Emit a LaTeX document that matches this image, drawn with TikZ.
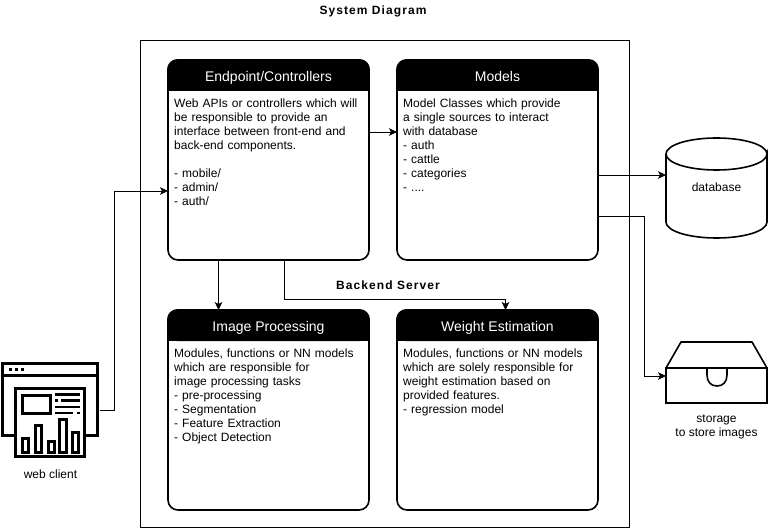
\documentclass[tikz,border=0pt]{standalone}
\usepackage{fontspec}
\setmainfont{Liberation Sans}
\usetikzlibrary{arrows.meta}
\tikzset{
  x=1pt,y=-1pt,
  panel/.style={draw=black,line width=1.6pt,fill=white,rounded corners=10pt,minimum width=201pt,minimum height=200pt,inner sep=0pt,outer sep=0pt},
  paneltitle/.style={text=white,font=\fontsize{14}{16}\selectfont,inner sep=0pt},
  panelbody/.style={anchor=north west,align=left,inner sep=0pt,text width=190pt,font=\fontsize{12}{14}\selectfont},
  label/.style={align=center,inner sep=0pt,font=\fontsize{12}{14}\selectfont},
  heading/.style={inner sep=0pt,font=\fontsize{12}{14}\selectfont\bfseries\addfontfeatures{LetterSpace=9}},
  link/.style={draw=black,line width=0.8pt,-{Stealth[length=8pt,width=7.5pt,inset=2pt]}},
  shapeline/.style={draw=black,line width=1.6pt,fill=white},
  icon/.style={draw=black,line width=3pt,fill=white,line cap=butt,line join=miter},
  iconbar/.style={draw=black,line width=2.6pt},
  anchorbox/.style={inner sep=0pt,outer sep=0pt},
}
\newcommand{\panelbox}[5]{% name, left, top, title, body lines
  \node[panel] (#1) at (#2+100.5,#3+100) {};
  \fill[black,rounded corners=10pt] (#2-0.8,#3+31) -- (#2-0.8,#3-0.8) -- (#2+201.8,#3-0.8) -- (#2+201.8,#3+31) -- cycle;
  \fill[black] (#2-0.8,#3+20) rectangle (#2+201.8,#3+31);
  \node[paneltitle] (#1title) at (#2+100.5,#3+18) {#4\strut};
  \node[panelbody] (#1body) at (#2+6,#3+39) {#5};
}
\begin{document}
\begin{tikzpicture}
\useasboundingbox (0,0) rectangle (768,529);
\fill[white] (0,0) rectangle (768,529);

\node[heading] (sysTitle) at (373,11) {System Diagram};
\node[draw=black,line width=0.8pt,minimum width=489pt,minimum height=487pt,inner sep=0pt,outer sep=0pt] (server) at (385.2,284.2) {};
\node[heading] (serverLabel) at (388,285) {Backend Server};

\panelbox{ep}{168}{60}{Endpoint/Controllers}{Web APIs or controllers which will\\be responsible to provide an\\interface between front-end and\\back-end components.\\[14pt]- mobile/\\- admin/\\- auth/}
\panelbox{models}{397}{60}{Models}{Model Classes which provide\\a single sources to interact\\with database\\- auth\\- cattle\\- categories\\- ....}
\panelbox{img}{168}{310}{Image Processing}{Modules, functions or NN models\\which are responsible for\\image processing tasks\\- pre-processing\\- Segmentation\\- Feature Extraction\\- Object Detection}
\panelbox{weight}{397}{310}{Weight Estimation}{Modules, functions or NN models\\which are solely responsible for\\weight estimation based on\\provided features.\\- regression model}

% database cylinder
\path[shapeline] (666,154) -- (666,222) .. controls (666,231) and (688.5,238) .. (716.5,238) .. controls (744.5,238) and (767,231) .. (767,222) -- (767,154) .. controls (767,163) and (744.5,170) .. (716.5,170) .. controls (688.5,170) and (666,163) .. (666,154) .. controls (666,145) and (688.5,138) .. (716.5,138) .. controls (744.5,138) and (767,145) .. (767,154);
\node[anchorbox,minimum width=101pt,minimum height=100pt,label] (db) at (716.5,187) {database};

% storage tray
\path[shapeline,line join=round] (666,368) -- (681,342) -- (752,342) -- (767,368) -- cycle;
\path[shapeline] (666,368) -- (707,368) -- (707,375) .. controls (707,382) and (711,386) .. (717,386) .. controls (723,386) and (727,382) .. (727,375) -- (727,368) -- (767,368) -- (767,403) -- (666,403) -- cycle;
\node[anchorbox,minimum width=101pt,minimum height=62pt] (tray) at (716.5,372.5) {};
\node[label] (trayLabel) at (716.5,426.5) {storage\\to store images};

% web client icon
\path[icon] (2.5,363) rectangle (97.5,435);
\draw[iconbar] (2,375.5) -- (98,375.5);
\fill (8.5,367.5) rectangle (12,370.5);
\fill (14.5,367.5) rectangle (18,370.5);
\fill (20.5,367.5) rectangle (24,370.5);
\path[icon] (15.5,388.5) rectangle (84.5,456.5);
\path[icon] (22,395) rectangle (50,413);
\draw[iconbar] (55,394.5) -- (80,394.5);
\draw[iconbar] (55,400.5) -- (58,400.5) (61,400.5) -- (80,400.5);
\draw[iconbar] (55,407) -- (80,407);
\draw[iconbar] (55,413) -- (73,413) (77,413) -- (80,413);
\path[icon] (22,438) rectangle (28,452);
\path[icon] (35,425) rectangle (41,452);
\path[icon] (48,441) rectangle (54,452);
\path[icon] (59,419) rectangle (66,452);
\path[icon] (72,432) rectangle (78,452);
\node[anchorbox,minimum width=99pt,minimum height=96pt] (client) at (50,409.5) {};
\node[label] (clientLabel) at (50.5,474) {web client};

% connectors
\draw[link] ([yshift=-0.5pt]client.east) -- ++(15,0) |- ([yshift=-31pt]ep.west);
\draw[link] ([yshift=28pt]ep.east) -- ([yshift=28pt]models.west);
\draw[link] ([yshift=-15pt]models.east) -- ([yshift=12pt]db.west);
\draw[link] ([yshift=-56pt]models.east) -- ++(46,0) |- ([yshift=-3.5pt]tray.west);
\draw[link] ([xshift=-50pt]ep.south) -- ([xshift=-50pt]img.north);
\draw[link] ([xshift=16pt]ep.south) -- ++(0,39) -| ([xshift=8pt]weight.north);
\end{tikzpicture}
\end{document}
